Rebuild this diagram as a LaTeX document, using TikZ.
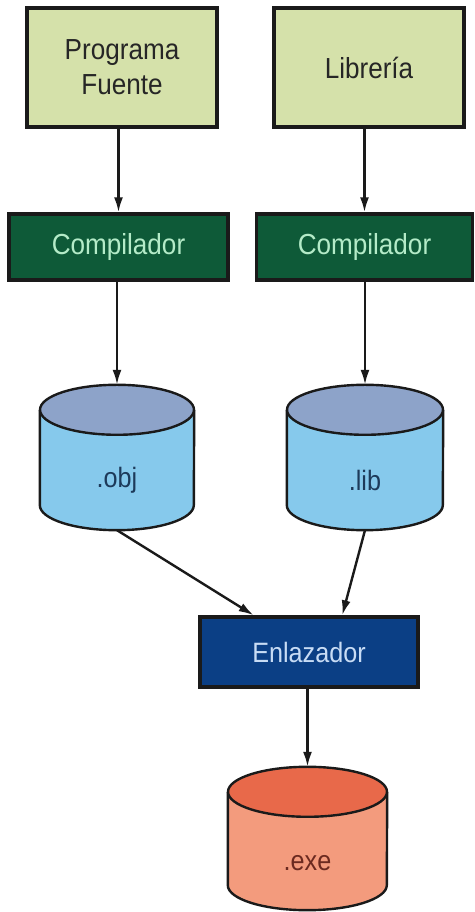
\documentclass[tikz,border=0pt]{standalone}
\usepackage{fontspec}
\setmainfont[FakeStretch=0.9]{Liberation Sans}
\usetikzlibrary{arrows.meta,calc}

\definecolor{srcfill}{HTML}{D5E1AA}
\definecolor{compfill}{HTML}{0E5A38}
\definecolor{comptext}{HTML}{B4EBC8}
\definecolor{linkfill}{HTML}{0B3F85}
\definecolor{linktext}{HTML}{C8DCF5}
\definecolor{drumbody}{HTML}{86C9EC}
\definecolor{drumtop}{HTML}{8DA3C9}
\definecolor{drumtext}{HTML}{1D3A5A}
\definecolor{exebody}{HTML}{F39B7D}
\definecolor{exetop}{HTML}{E8694A}
\definecolor{exetext}{HTML}{6B2A20}
\definecolor{edge}{HTML}{1A1A1A}

% cylinder drawn inside the bounds of a named node
% #1 node, #2 x radius, #3 y radius, #4 body colour, #5 end colour
\newcommand\drawdrum[5]{%
  \fill[#4] ($(#1.north west)+(0,-#3)$) -- ($(#1.south west)+(0,#3)$)
    arc[start angle=180,end angle=360,x radius=#2pt,y radius=#3pt]
    -- ($(#1.north east)+(0,-#3)$) -- cycle;
  \draw[drumline] ($(#1.north west)+(0,-#3)$) -- ($(#1.south west)+(0,#3)$)
    arc[start angle=180,end angle=360,x radius=#2pt,y radius=#3pt]
    -- ($(#1.north east)+(0,-#3)$);
  \filldraw[drumline,fill=#5] ($(#1.north)+(0,-#3)$) ellipse[x radius=#2pt,y radius=#3pt];
}

\tikzset{
  srcbox/.style={draw=edge,line width=3.4pt,fill=srcfill,inner sep=0pt,
    minimum width=190pt,minimum height=119pt,align=center,
    font=\fontsize{29}{35}\selectfont,text=black!85},
  compbox/.style={draw=edge,line width=3.4pt,fill=compfill,inner sep=0pt,
    minimum height=66pt,font=\fontsize{29}{35}\selectfont,text=comptext},
  linkbox/.style={draw=edge,line width=3.4pt,fill=linkfill,inner sep=0pt,
    minimum width=218pt,minimum height=70pt,font=\fontsize{28}{33}\selectfont,text=linktext},
  drumbox/.style={inner sep=0pt,minimum height=145pt},
  drumline/.style={draw=edge,line width=2.4pt},
  drumlabel/.style={font=\fontsize{28}{33}\selectfont},
  arr/.style={draw=edge,line width=2.4pt,-{Latex[length=15pt,width=9pt]}}
}

\begin{document}
\begin{tikzpicture}[x=1pt,y=1pt]
  \useasboundingbox (0,0) rectangle (474,912);
  \fill[white] (0,0) rectangle (474,912);

  % sources
  \node[srcbox] (pf) at (122,844.5) {Programa\\Fuente};
  \node[srcbox] (lb) at (369,844.5) {Librería};

  % compilers
  \node[compbox,minimum width=219pt] (c1) at (118.5,665) {Compilador};
  \node[compbox,minimum width=216pt] (c2) at (364.5,665) {Compilador};

  % object files
  \node[drumbox,minimum width=154pt] (obj) at (117,454.5) {};
  \node[drumbox,minimum width=156pt] (lib) at (365,454.5) {};
  \drawdrum{obj}{77}{25}{drumbody}{drumtop}
  \drawdrum{lib}{78}{25}{drumbody}{drumtop}
  \node[drumlabel,text=drumtext] (objt) at ($(obj.center)+(0,-22.5)$) {.obj};
  \node[drumlabel,text=drumtext] (libt) at ($(lib.center)+(0,-22.5)$) {.lib};

  % linker
  \node[linkbox] (enl) at (309,260) {Enlazador};

  % executable
  \node[drumbox,minimum width=159pt,minimum height=143pt] (exe) at (307.5,73.5) {};
  \drawdrum{exe}{79.5}{25}{exebody}{exetop}
  \node[drumlabel,text=exetext] (exet) at ($(exe.center)+(0,-24.5)$) {.exe};

  % connectors
  \draw[arr] (c1.north |- pf.south) -- (c1.north);
  \draw[arr] (c2.north |- lb.south) -- (c2.north);
  \draw[arr] (obj.north |- c1.south) -- (obj.north);
  \draw[arr] (lib.north |- c2.south) -- (lib.north);
  \draw[arr] (obj.south) -- ($(enl.north west)!0.25!(enl.north east)$);
  \draw[arr] (lib.south) -- ($(enl.north west)!0.65!(enl.north east)$);
  \draw[arr] (exe.north |- enl.south) -- (exe.north);
\end{tikzpicture}
\end{document}
